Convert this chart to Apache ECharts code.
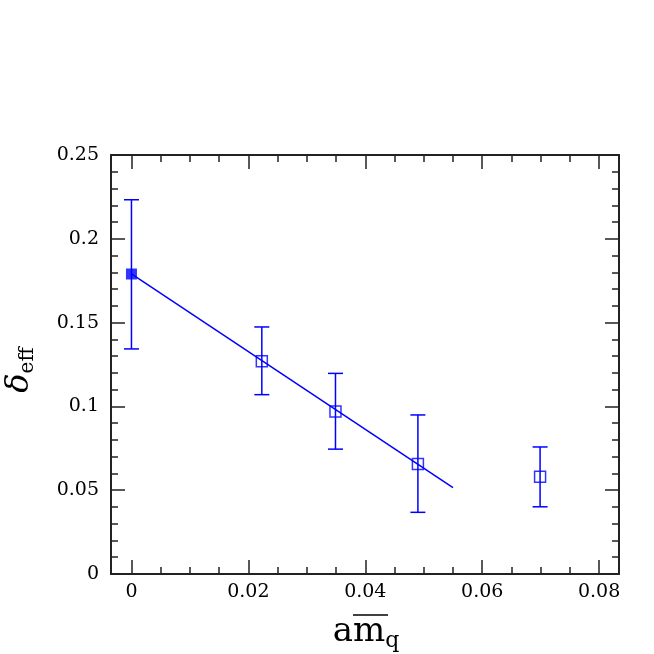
<!DOCTYPE html>
<html>
<head>
<meta charset="utf-8">
<script src="https://cdn.jsdelivr.net/npm/echarts@6/dist/echarts.min.js"></script>
<style>
  html, body { margin: 0; padding: 0; background: #fff; }
  #main { width: 654px; height: 654px; }
</style>
</head>
<body>
<div id="main"></div>
<script>
// measured points: a*mq, delta_eff and error bar ends
const xVals = [0, 0.0223, 0.0349, 0.049, 0.0699];
const yVals = [0.179, 0.127, 0.097, 0.0657, 0.058];
const yLow = [0.1343, 0.107, 0.0745, 0.0368, 0.0401];
const yHigh = [0.2233, 0.1474, 0.1197, 0.0949, 0.0758];
const filledIdx = [0]; // chiral extrapolation point

// linear fit drawn through the first four points
const fitX = [0, 0.055];
const fitY = [0.179, 0.0515];

const xMajorTicks = [0, 0.02, 0.04, 0.06, 0.08];
const xMinorTicks = [0.005, 0.01, 0.015, 0.025, 0.03, 0.035, 0.045, 0.05, 0.055,
  0.065, 0.07, 0.075];

const blue = '#0000ff';
const axisColor = '#222';
const serif = 'DejaVu Serif';

const xMin = -0.0035, xMax = 0.0834;

const errData = xVals.map((x, i) => [x, yLow[i], yHigh[i]]);
const filledPts = [], openPts = [];
xVals.forEach((x, i) => {
  (filledIdx.indexOf(i) >= 0 ? filledPts : openPts).push([x, yVals[i]]);
});
const fitData = fitX.map((x, i) => [x, fitY[i]]);

function xAxisCfg(pos, ticks, len, showLine, showLabel) {
  return {
    type: 'value', position: pos, min: xMin, max: xMax,
    axisLine: { show: showLine, onZero: false, lineStyle: { color: axisColor, width: 2 } },
    axisTick: { show: true, inside: true, length: len, customValues: ticks,
      lineStyle: { color: axisColor, width: 1.5 } },
    axisLabel: { show: showLabel, customValues: ticks, margin: 9,
      color: '#000', fontFamily: serif, fontSize: 19 },
    splitLine: { show: false }
  };
}

function yAxisCfg(pos, showLabel) {
  return {
    type: 'value', position: pos, min: 0, max: 0.25, interval: 0.05,
    axisLine: { show: true, onZero: false, lineStyle: { color: axisColor, width: 2 } },
    axisTick: { show: true, inside: true, length: 14, lineStyle: { color: axisColor, width: 1.5 } },
    minorTick: { show: true, splitNumber: 5, length: 7, lineStyle: { color: axisColor, width: 1.5 } },
    axisLabel: { show: showLabel, margin: 12, color: '#000', fontFamily: serif, fontSize: 19 },
    splitLine: { show: false }
  };
}

const chart = echarts.init(document.getElementById('main'));

chart.setOption({
  animation: false,
  backgroundColor: '#fff',
  grid: { left: 111, right: 35, top: 155, bottom: 80, containLabel: false },
  xAxis: [
    xAxisCfg('bottom', xMajorTicks, 14, true, true),
    xAxisCfg('bottom', xMinorTicks, 7, false, false),
    xAxisCfg('top', xMajorTicks, 14, true, false),
    xAxisCfg('top', xMinorTicks, 7, false, false)
  ],
  yAxis: [yAxisCfg('left', true), yAxisCfg('right', false)],
  graphic: [
    {
      type: 'text', x: 20, y: 370, rotation: Math.PI / 2,
      style: {
        text: '{d|δ}{s|eff}', align: 'center', verticalAlign: 'middle',
        rich: {
          d: { fontFamily: serif, fontStyle: 'italic', fontSize: 32, fill: '#000' },
          s: { fontFamily: serif, fontSize: 20, fill: '#000', padding: [16, 0, 0, 0] }
        }
      }
    },
    {
      type: 'text', x: 366, y: 632,
      style: {
        text: '{m|am}{q|q}', align: 'center', verticalAlign: 'middle',
        rich: {
          m: { fontFamily: serif, fontSize: 34, fill: '#000' },
          q: { fontFamily: serif, fontSize: 22, fill: '#000', padding: [18, 0, 0, 0] }
        }
      }
    },
    {
      // bar over the m
      type: 'line', shape: { x1: 353, y1: 615, x2: 388, y2: 615 },
      style: { stroke: '#000', lineWidth: 1.5 }
    }
  ],
  series: [
    {
      type: 'line', data: fitData, symbol: 'none',
      lineStyle: { color: blue, width: 1.5 }, z: 2
    },
    {
      type: 'custom', data: errData, z: 3,
      renderItem: function (params, api) {
        const x = api.value(0);
        const lo = api.coord([x, api.value(1)]);
        const hi = api.coord([x, api.value(2)]);
        const hw = 7.5;
        const st = { stroke: blue, lineWidth: 1.5 };
        return {
          type: 'group',
          children: [
            { type: 'line', shape: { x1: lo[0], y1: lo[1], x2: hi[0], y2: hi[1] }, style: st },
            { type: 'line', shape: { x1: lo[0] - hw, y1: lo[1], x2: lo[0] + hw, y2: lo[1] }, style: st },
            { type: 'line', shape: { x1: hi[0] - hw, y1: hi[1], x2: hi[0] + hw, y2: hi[1] }, style: st }
          ]
        };
      }
    },
    {
      type: 'scatter', data: filledPts, symbol: 'rect', symbolSize: 11, z: 4,
      itemStyle: { color: blue }
    },
    {
      type: 'scatter', data: openPts, symbol: 'rect', symbolSize: 11, z: 4,
      itemStyle: { color: 'rgba(0,0,0,0)', borderColor: blue, borderWidth: 1.5 }
    }
  ]
});
</script>
</body>
</html>
